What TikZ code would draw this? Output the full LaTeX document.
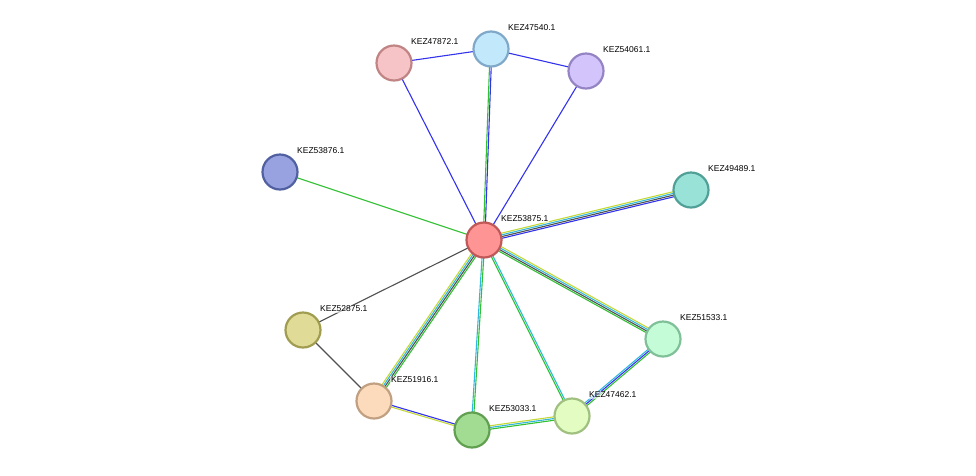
\documentclass[tikz,border=0pt]{standalone}
\usepackage{fontspec}
\setmainfont{Liberation Sans}
\usetikzlibrary{calc,backgrounds}
\definecolor{eb}{HTML}{3333EE}
\definecolor{eg}{HTML}{33C033}
\definecolor{ed}{HTML}{505050}
\definecolor{ec}{HTML}{33B8DD}
\definecolor{ey}{HTML}{C4D838}
\tikzset{
 prot/.style={circle,minimum size=35pt,inner sep=0pt,line width=2.2pt},
 lab/.style={anchor=west,font=\fontsize{8.5pt}{10pt}\selectfont,inner sep=1pt,fill=white,fill opacity=0.6,text opacity=1},
 ln/.style={line width=1.1pt}
}
\newcommand{\medge}[3]{%
 \foreach \c [count=\i] in {#3} {\xdef\ncount{\i}}%
 \foreach \c [count=\i] in {#3} {%
  \pgfmathsetmacro{\off}{(\i-(\ncount+1)/2)*1.7}%
  \draw[ln,color=\c] ($(#1)!\off pt!90:(#2)$) -- ($(#2)!\off pt!-90:(#1)$);
 }}
\newcommand{\prot}[6]{%
 \definecolor{fill#1}{HTML}{#4}\definecolor{line#1}{HTML}{#5}%
 \node[prot,fill=fill#1,draw=line#1] (#1) at (#2,#3) {};
 \node[lab] at (#2+16,#3-21) {#6};}
\begin{document}
\begin{tikzpicture}[x=1pt,y=-1pt]
\useasboundingbox (0,0) rectangle (976,475);
\prot{c}{484}{240}{ff9494}{c05858}{KEZ53875.1}
\prot{a}{394}{63}{f6c4c6}{c08484}{KEZ47872.1}
\prot{b}{491}{49}{c2e8fc}{80a8c8}{KEZ47540.1}
\prot{d}{586}{71}{d4c4fc}{9484c4}{KEZ54061.1}
\prot{e}{280}{172}{98a2e0}{5060a0}{KEZ53876.1}
\prot{f}{691}{190}{98e2d8}{50a098}{KEZ49489.1}
\prot{g}{303}{330}{e0dc98}{a09c50}{KEZ52875.1}
\prot{h}{663}{339}{c4fcd8}{80c098}{KEZ51533.1}
\prot{i}{374}{401}{fcdabc}{c0a080}{KEZ51916.1}
\prot{j}{472}{430}{a2dc92}{60a050}{KEZ53033.1}
\prot{k}{572}{416}{e2fcc2}{a0c080}{KEZ47462.1}
\begin{scope}[on background layer]
\medge{c}{a}{eb}
\medge{c}{b}{eb,eg}
\medge{a}{b}{eb}
\medge{b}{d}{eb}
\medge{c}{d}{eb}
\medge{c}{e}{eg}
\medge{c}{f}{eb,ed,ec,ey}
\medge{c}{h}{eg,ed,ec,ey}
\medge{c}{g}{ed}
\medge{g}{i}{ed}
\medge{c}{i}{ey,ec,ed,eg}
\medge{i}{j}{ey,eb}
\medge{c}{j}{ec,eg}
\medge{c}{k}{eg,ec}
\medge{j}{k}{eg,ec,ey}
\medge{h}{k}{ec,eb,eg}
\end{scope}
\end{tikzpicture}
\end{document}
